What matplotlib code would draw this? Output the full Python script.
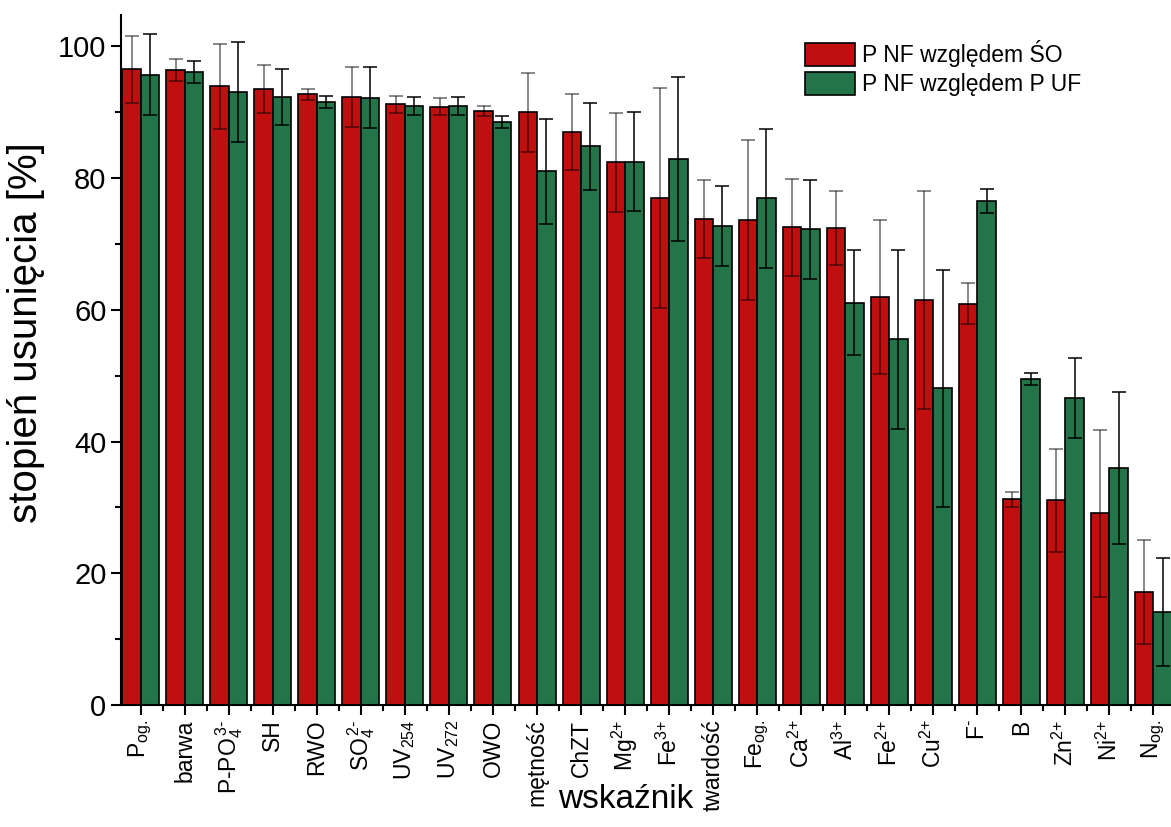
import numpy as np
import matplotlib
matplotlib.use("Agg")
import matplotlib.pyplot as plt
from matplotlib.ticker import MultipleLocator

plt.rcParams['font.family'] = ['Liberation Sans', 'DejaVu Sans']
plt.rcParams['mathtext.fontset'] = 'custom'
plt.rcParams['mathtext.rm'] = 'Liberation Sans'
plt.rcParams['mathtext.it'] = 'Liberation Sans'

# wskazniki
labels = [r'P$_{\text{og.}}$', 'barwa', r'P-PO$_4^{\,\text{3-}}$', 'SH', 'RWO',
          r'SO$_4^{\,\text{2-}}$', r'UV$_{\text{254}}$', r'UV$_{\text{272}}$', 'OWO', 'mętność',
          'ChZT', r'Mg$^{\text{2+}}$', r'Fe$^{\text{3+}}$', 'twardość', r'Fe$_{\text{og.}}$',
          r'Ca$^{\text{2+}}$', r'Al$^{\text{3+}}$', r'Fe$^{\text{2+}}$', r'Cu$^{\text{2+}}$',
          r'F$^{\text{-}}$', 'B', r'Zn$^{\text{2+}}$', r'Ni$^{\text{2+}}$', r'N$_{\text{og.}}$']

# P NF wzgledem SO
so_val = [96.5, 96.4, 93.9, 93.5, 92.7, 92.3, 91.2, 90.8, 90.2, 90.0,
          87.0, 82.4, 77.0, 73.8, 73.6, 72.5, 72.4, 61.9, 61.5, 60.9,
          31.2, 31.1, 29.1, 17.2]
so_err = [5.1, 1.6, 6.5, 3.6, 0.8, 4.5, 1.3, 1.3, 0.8, 6.0,
          5.8, 7.5, 16.7, 5.9, 12.1, 7.4, 5.6, 11.7, 16.5, 3.1,
          1.2, 7.8, 12.7, 7.9]

# P NF wzgledem P UF
uf_val = [95.7, 96.1, 93.1, 92.3, 91.6, 92.2, 90.9, 90.9, 88.5, 81.0,
          84.8, 82.5, 82.9, 72.7, 76.9, 72.2, 61.1, 55.5, 48.1, 76.5,
          49.5, 46.6, 36.0, 14.1]
uf_err = [6.1, 1.7, 7.6, 4.3, 0.9, 4.6, 1.4, 1.4, 0.9, 8.0,
          6.6, 7.5, 12.5, 6.1, 10.6, 7.5, 7.9, 13.6, 18.0, 1.8,
          0.9, 6.1, 11.5, 8.2]

red = '#c00f0f'
green = '#24744a'
w = 0.42
x = np.arange(len(labels))

fig = plt.figure(figsize=(11.71, 8.27), dpi=100)
ax = fig.add_axes([0.1033, 0.1475, 0.8967, 0.834])

ax.bar(x - w/2, so_val, w, color=red, edgecolor='black', linewidth=1.2,
       label='P NF względem ŚO', zorder=2)
ax.bar(x + w/2, uf_val, w, color=green, edgecolor='black', linewidth=1.2,
       label='P NF względem P UF', zorder=2)
ax.errorbar(x - w/2, so_val, yerr=so_err, fmt='none', ecolor=(0, 0, 0, 0.5),
            elinewidth=1.3, capsize=5, capthick=1.3, zorder=3)
ax.errorbar(x + w/2, uf_val, yerr=uf_err, fmt='none', ecolor='black',
            elinewidth=1.1, capsize=5, capthick=1.1, zorder=3)

ax.set_xlim(-0.45, 23.4)
ax.set_ylim(0, 104.7)
ax.set_xticks(x)
ax.set_xticklabels(labels, rotation=90, fontsize=16.5)
ax.xaxis.set_minor_locator(MultipleLocator(0.5))
ax.yaxis.set_major_locator(MultipleLocator(20))
ax.yaxis.set_minor_locator(MultipleLocator(10))
ax.tick_params(axis='y', labelsize=21)
ax.tick_params(which='major', direction='out', length=7, width=1.5)
ax.tick_params(which='minor', direction='out', length=4, width=1.5)
for s in ['top', 'right']:
    ax.spines[s].set_visible(False)
for s in ['left', 'bottom']:
    ax.spines[s].set_linewidth(1.5)

ax.set_ylabel('stopień usunięcia [%]', fontsize=29)
ax.yaxis.set_label_coords(-0.072, 0.54)
ax.set_xlabel('wskaźnik', fontsize=24)
ax.xaxis.set_label_coords(0.481, -0.114)

fig.legend(loc='upper left', bbox_to_anchor=(805/1171, 1 - 40/827),
           frameon=False, fontsize=16.5, handlelength=2.2, handleheight=1.2,
           handletextpad=0.3, labelspacing=0.2, borderpad=0, borderaxespad=0)

fig.savefig('out.png', dpi=100)
